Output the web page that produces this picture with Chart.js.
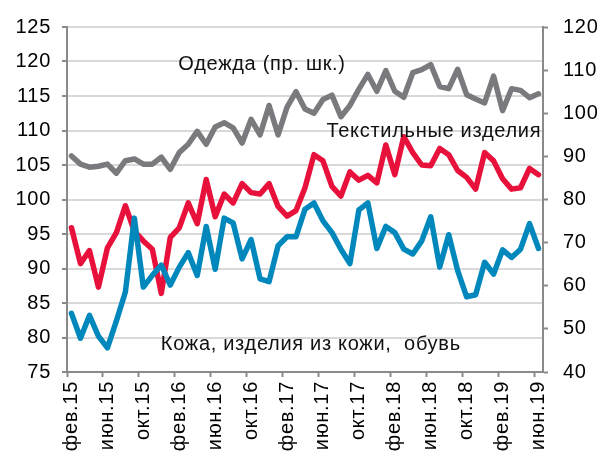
<!DOCTYPE html>
<html><head><meta charset="utf-8">
<script src="https://cdn.jsdelivr.net/npm/chart.js@4/dist/chart.umd.min.js"></script>
<style>html,body{margin:0;padding:0;background:#fff}canvas{display:block}</style>
</head><body>
<canvas id="c" width="609" height="460"></canvas>
<script>
const categories = [
 'фев.15','мар.15','апр.15','май.15','июн.15','июл.15','авг.15','сен.15','окт.15','ноя.15','дек.15',
 'янв.16','фев.16','мар.16','апр.16','май.16','июн.16','июл.16','авг.16','сен.16','окт.16','ноя.16','дек.16',
 'янв.17','фев.17','мар.17','апр.17','май.17','июн.17','июл.17','авг.17','сен.17','окт.17','ноя.17','дек.17',
 'янв.18','фев.18','мар.18','апр.18','май.18','июн.18','июл.18','авг.18','сен.18','окт.18','ноя.18','дек.18',
 'янв.19','фев.19','мар.19','апр.19','май.19','июн.19'
];
// Одежда (right axis)
const clothing = [
 90.1,88.2,87.5,87.7,88.2,86.1,89.0,89.4,88.2,88.2,89.8,87.0,90.9,92.8,95.8,92.8,96.8,97.8,96.6,93.1,
 98.6,95.0,101.8,95.0,101.4,105.0,101.0,100.0,103.2,104.2,99.2,101.8,105.6,109.0,105.1,109.9,105.1,103.7,109.4,110.1,
 111.3,106.2,105.7,110.2,104.3,103.3,102.4,108.6,100.6,105.7,105.3,103.6,104.5
];
// Текстильные изделия (left axis)
const textiles = [
 95.9,90.7,92.6,87.3,93.0,95.2,99.1,95.4,94.0,92.8,86.4,94.5,95.9,99.5,96.5,102.9,97.5,100.8,99.5,102.3,
 101.0,100.8,102.3,99.0,97.6,98.4,101.7,106.5,105.6,101.9,100.5,104.0,102.8,103.5,102.4,107.9,103.6,109.1,106.8,105.0,
 104.9,107.4,106.5,104.2,103.2,101.5,106.8,105.6,103.0,101.5,101.7,104.5,103.6
];
// Кожа, изделия из кожи, обувь (left axis)
const leather = [
 83.5,79.9,83.2,80.2,78.5,82.4,86.6,97.3,87.3,89.0,90.5,87.6,90.2,92.3,89.0,96.1,89.9,97.3,96.6,91.4,
 94.2,88.5,88.1,93.3,94.6,94.6,98.6,99.5,96.9,95.2,92.8,90.7,98.5,99.5,92.9,96.1,95.2,92.8,92.1,94.0,
 97.5,90.2,94.9,89.7,85.9,86.2,90.9,89.2,92.7,91.6,92.8,96.5,92.9
];
const leftTicks = [75,125,5];
const rightTicks = [40,120,10];

const FONT = 'Liberation Sans, Arial, sans-serif';
const AXIS = '#8a8a8a';

const notes = [
 {text:'Одежда (пр. шк.)', xi:11.9, yv:119.6, align:'left'},
 {text:'Текстильные изделия', xi:52.3, yv:109.8, align:'right'},
 {text:'Кожа, изделия из кожи,  обувь', xi:9.95, yv:79.0, align:'left'}
];
const spacingPlugin = {
 id:'spacing',
 beforeDraw(chart){ chart.ctx.letterSpacing = '0.7px'; },
 afterDraw(chart){ chart.ctx.letterSpacing = '0px'; }
};
const notePlugin = {
 id:'notes',
 afterDatasetsDraw(chart){
  const {ctx, scales:{x,y}} = chart;
  ctx.save();
  ctx.letterSpacing = '0.7px';
  ctx.font = '20px ' + FONT;
  ctx.fillStyle = '#111';
  ctx.textBaseline = 'middle';
  notes.forEach(n=>{
   ctx.textAlign = n.align;
   ctx.fillText(n.text, x.getPixelForValue(n.xi), y.getPixelForValue(n.yv));
  });
  ctx.restore();
 }
};

const lineDs = (label, data, color, axis, order) => ({
 label, data, borderColor: color, backgroundColor: color, yAxisID: axis, order,
 borderWidth: 5.5, pointRadius: 0, tension: 0, borderJoinStyle:'round', borderCapStyle:'round', fill:false
});

new Chart(document.getElementById('c'), {
 type:'line',
 data:{
  labels: categories,
  datasets:[
   lineDs('Кожа, изделия из кожи, обувь', leather, '#0088bd', 'y', 1),
   lineDs('Текстильные изделия', textiles, '#e8113b', 'y', 2),
   lineDs('Одежда (пр. шк.)', clothing, '#7a7a7e', 'y1', 3)
  ]
 },
 options:{
  responsive:false, animation:false,
  layout:{padding:{top:19,left:0,right:0,bottom:0}},
  plugins:{legend:{display:false}, tooltip:{enabled:false}},
  scales:{
   x:{
    offset:true,
    grid:{offset:true, drawOnChartArea:false, drawTicks:true, tickLength:5,
      tickColor:(c)=> (c.index % 4 === 0) ? AXIS : 'rgba(0,0,0,0)', tickWidth:2},
    border:{color:AXIS, width:2},
    ticks:{autoSkip:false, minRotation:90, maxRotation:90, padding:4, color:'#000',
      font:{family:FONT, size:20},
      callback:(v,i)=> i % 4 === 0 ? categories[i] : ''},
    afterFit:(s)=>{ s.height = 88; }
   },
   y:{
    position:'left', min:leftTicks[0], max:leftTicks[1],
    ticks:{stepSize:leftTicks[2], padding:11, color:'#000', font:{family:FONT, size:20}},
    grid:{color:'#d9d9d9', lineWidth:2, tickColor:AXIS, tickLength:5, tickWidth:2},
    border:{color:AXIS, width:2},
    afterFit:(s)=>{ s.width = 67; }
   },
   y1:{
    position:'right', min:rightTicks[0], max:rightTicks[1],
    ticks:{stepSize:rightTicks[2], padding:15, color:'#000', font:{family:FONT, size:20}},
    grid:{drawOnChartArea:false, tickColor:AXIS, tickLength:5, tickWidth:2},
    border:{color:AXIS, width:2},
    afterFit:(s)=>{ s.width = 66; }
   }
  }
 },
 plugins:[spacingPlugin, notePlugin]
});
</script>
</body></html>
